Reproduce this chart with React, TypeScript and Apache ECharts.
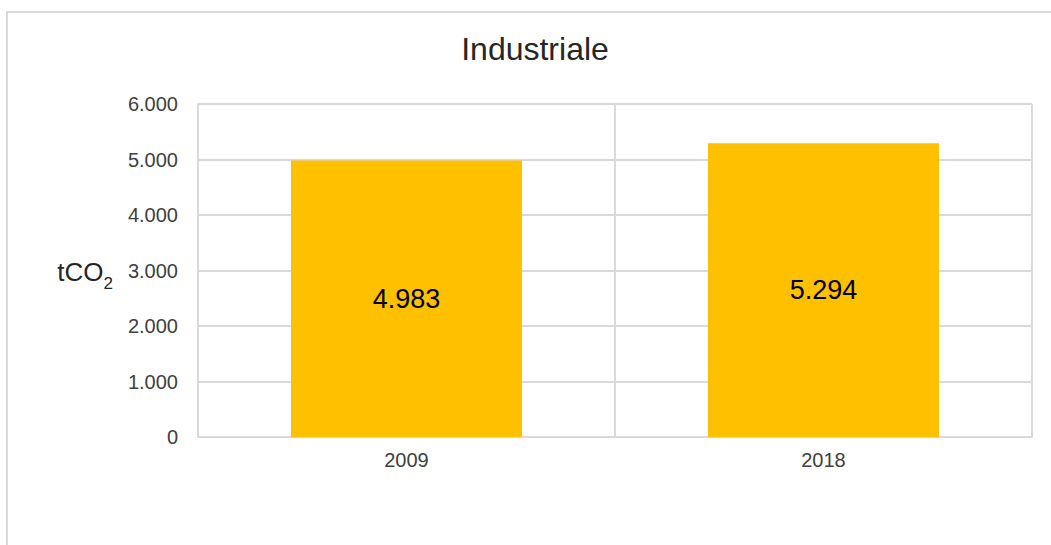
import React, { useEffect, useRef } from "react";
import * as echarts from "echarts";

const categories: string[] = ["2009", "2018"];
const values: number[] = [4983, 5294];
const yTicks: number[] = [0, 1000, 2000, 3000, 4000, 5000, 6000];

const fmt = (v: number): string =>
  String(Math.round(v)).replace(/\B(?=(\d{3})+(?!\d))/g, ".");

const FONT = "'Liberation Sans', Arial, sans-serif";
const GRID_COLOR = "#d9d9d9";

export default function App() {
  const ref = useRef<HTMLDivElement>(null);
  useEffect(() => {
    if (!ref.current) return;
    const chart = echarts.init(ref.current, undefined, { renderer: "svg" });
    chart.setOption({
      animation: false,
      backgroundColor: "#ffffff",
      textStyle: { fontFamily: FONT },
      title: {
        text: "Industriale",
        left: 535,
        top: 33,
        padding: 0,
        textAlign: "center",
        textStyle: { fontFamily: FONT, fontSize: 32, fontWeight: "normal", color: "#262626" },
      },
      graphic: [
        {
          type: "rect",
          shape: { x: 7, y: 12, width: 1200, height: 700 },
          style: { fill: "none", stroke: GRID_COLOR, lineWidth: 2 },
          silent: true,
          z: -10,
        },
      ],
      grid: { left: 198, right: 19, top: 104, bottom: 108 },
      xAxis: {
        type: "category",
        data: categories,
        axisLine: { show: true, lineStyle: { color: GRID_COLOR, width: 2 } },
        axisTick: { show: false },
        splitLine: { show: true, lineStyle: { color: GRID_COLOR, width: 2 } },
        axisLabel: { fontFamily: FONT, fontSize: 20, color: "#404040", margin: 13 },
      },
      yAxis: {
        type: "value",
        min: yTicks[0],
        max: yTicks[yTicks.length - 1],
        interval: yTicks[1] - yTicks[0],
        name: "{a|tCO}{b|2}",
        nameLocation: "middle",
        nameRotate: 0,
        nameGap: 85,
        nameTextStyle: {
          align: "right",
          rich: {
            a: { fontFamily: FONT, fontSize: 26, color: "#262626", verticalAlign: "bottom", lineHeight: 28 },
            b: { fontFamily: FONT, fontSize: 17, color: "#262626", verticalAlign: "bottom", lineHeight: 20, padding: [0, 0, -7, 0] },
          },
        },
        axisLine: { show: true, lineStyle: { color: GRID_COLOR, width: 2 } },
        axisTick: { show: false },
        splitLine: { show: true, lineStyle: { color: GRID_COLOR, width: 2 } },
        axisLabel: {
          fontFamily: FONT,
          fontSize: 20,
          color: "#404040",
          margin: 20,
          formatter: (v: number) => fmt(v),
        },
      },
      series: [
        {
          type: "bar",
          data: values,
          barWidth: 231,
          itemStyle: { color: "#FFC000" },
          label: {
            show: true,
            position: "inside",
            fontFamily: FONT,
            fontSize: 27,
            color: "#000000",
            formatter: (p: any) => fmt(p.value),
          },
        },
      ],
    });
    return () => chart.dispose();
  }, []);
  return (
    <div
      ref={ref}
      style={{ position: "fixed", left: 0, top: 0, width: 1051, height: 545 }}
    />
  );
}
